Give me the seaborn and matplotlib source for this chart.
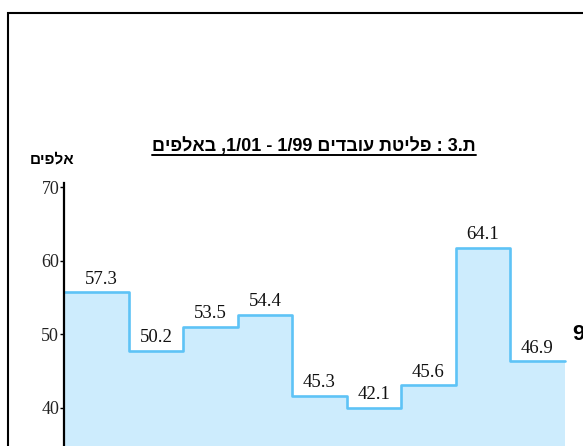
import numpy as np
import matplotlib
matplotlib.use("Agg")
import matplotlib.pyplot as plt
import seaborn as sns
from matplotlib.patches import Rectangle
from matplotlib.lines import Line2D

# ---- data ----
periods = ["1/99", "4/99", "7/99", "10/99", "1/00", "4/00", "7/00", "10/00", "1/01"]
step_levels = [55.7, 47.75, 51.0, 52.6, 41.65, 40.0, 43.05, 61.75, 46.3]   # drawn heights
value_labels = ["57.3", "50.2", "53.5", "54.4", "45.3", "42.1", "45.6", "64.1", "46.9"]
y_ticks = [40, 50, 60, 70]
# visual order (RTL text laid out left-to-right)
title_text = "םיפלאב ,1/01 - 1/99 םידבוע תטילפ : 3.ת"
ylabel_text = "םיפלא"
side_text = "9"

LINE = "#5ec3f6"
FILL = "#cdecfd"
HEB = ["Liberation Sans", "DejaVu Sans"]
SERIF = ["Liberation Serif", "DejaVu Serif"]

sns.set_theme(style="white")
plt.rcParams["font.family"] = HEB

W, H = 583, 446
fig = plt.figure(figsize=(W / 100, H / 100), dpi=100)
fig.patch.set_facecolor("white")

ax_left_px, ax_right_px = 64, 619
ax_top_px, ax_bot_px = 183.3, 481.3
ax = fig.add_axes([ax_left_px / W, (H - ax_bot_px) / H,
                   (ax_right_px - ax_left_px) / W, (ax_bot_px - ax_top_px) / H])
ax.set_facecolor("none")

n = len(step_levels)
xmin, xmax = -0.693, 9.5
ymin, ymax = 30, 70.51
idx = np.arange(n)
edges = np.r_[xmin, idx + 0.5]
levels_ext = np.r_[step_levels, step_levels[-1]]

ax.fill_between(edges, levels_ext, ymin, step="post", color=FILL, linewidth=0, zorder=1)
sns.lineplot(x=edges, y=levels_ext, ax=ax, drawstyle="steps-post", color=LINE,
             linewidth=1.9, sort=False, zorder=2, estimator=None)

for i, (lv, lb) in enumerate(zip(step_levels, value_labels)):
    ax.annotate(lb, (i, lv), xytext=(0, 9.5), textcoords="offset points",
                ha="center", va="center", fontsize=13.5, family=SERIF, color="#111111")

ax.set_xlim(xmin, xmax)
ax.set_ylim(ymin, ymax)
ax.set_xticks([])
ax.set_yticks(y_ticks)
ax.set_yticklabels([str(t) for t in y_ticks], family=SERIF, fontsize=13)
ax.tick_params(axis="y", which="both", left=True, length=3, width=1, pad=0.5, colors="black")
for t in ax.get_yticklabels():
    t.set_color("#222222")
for s in ["top", "right", "bottom"]:
    ax.spines[s].set_visible(False)
ax.spines["left"].set_color("black")
ax.spines["left"].set_linewidth(1.6)
ax.grid(False)

# frame around the page
fig.add_artist(Rectangle((8 / W, -0.1), 1.2, 0.1 + (H - 13) / H, transform=fig.transFigure,
                         fill=False, edgecolor="black", linewidth=1.5))

# title with underline
title = fig.text(314 / W, 1 - 146 / H, title_text, ha="center", va="center",
                 fontsize=13, weight="bold", family=HEB, color="black")
fig.text(52.5 / W, 1 - 159 / H, ylabel_text, ha="center", va="center",
         fontsize=11, weight="bold", family=HEB, color="black")
fig.text(572 / W, 1 - 334 / H, side_text, ha="left", va="center",
         fontsize=16, weight="bold", family=HEB, color="black")

fig.canvas.draw()
bb = title.get_window_extent(renderer=fig.canvas.get_renderer())
uy = 1 - 154.5 / H
fig.add_artist(Line2D([bb.x0 / W, bb.x1 / W], [uy, uy], transform=fig.transFigure,
                      color="black", linewidth=1.4))

fig.savefig("out.png", dpi=100)
